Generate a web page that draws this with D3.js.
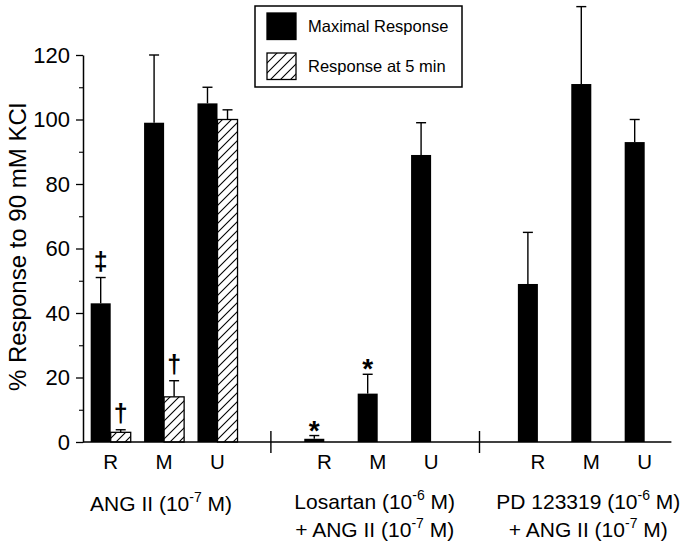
<!DOCTYPE html>
<html>
<head>
<meta charset="utf-8">
<script src="https://cdn.jsdelivr.net/npm/d3@7"></script>
<style>
  html, body { margin: 0; padding: 0; background: #fff; }
  svg { display: block; font-family: "Liberation Sans", Arial, Helvetica, sans-serif; }
</style>
</head>
<body>
<svg id="chart" width="685" height="550"></svg>
<script>
// ---------- data ----------
const groups = ["ANG II", "Losartan", "PD 123319"];
const sites = ["R", "M", "U"];
const seriesNames = ["Maximal Response", "Response at 5 min"];

// Maximal response (mean, SEM) for groups x sites, in row order
const maxMean = [43, 99, 105, 1, 15, 89, 49, 111, 93];
const maxSEM  = [8, 21, 5, 1, 6, 10, 16, 24, 7];

// Response at 5 min (only ANG II group)
const fiveMean = [3, 14, 100];
const fiveSEM  = [0.8, 5, 3];

const yTicks = [0, 20, 40, 60, 80, 100, 120];
const yMinorTicks = [10, 30, 50, 70, 90, 110];

const groupLabels = [
  ["ANG II (10^-7^ M)"],
  ["Losartan (10^-6^ M)", "+ ANG II (10^-7^ M)"],
  ["PD 123319 (10^-6^ M)", "+ ANG II (10^-7^ M)"]
];

const annotations = [
  { group: "ANG II", site: "R", series: "Maximal Response", symbol: "\u2021" },
  { group: "ANG II", site: "R", series: "Response at 5 min", symbol: "\u2020" },
  { group: "ANG II", site: "M", series: "Response at 5 min", symbol: "\u2020" },
  { group: "Losartan", site: "R", series: "Maximal Response", symbol: "*" },
  { group: "Losartan", site: "M", series: "Maximal Response", symbol: "*" }
];

// ---------- build rows ----------
const rows = [];
groups.forEach((g, gi) => sites.forEach((s, si) => {
  rows.push({ group: g, site: s, series: seriesNames[0], value: maxMean[gi * 3 + si], sem: maxSEM[gi * 3 + si] });
  if (gi === 0) rows.push({ group: g, site: s, series: seriesNames[1], value: fiveMean[si], sem: fiveSEM[si] });
}));

// ---------- layout ----------
const svg = d3.select("#chart");
const axisX = 83, baseY = 442, topY = 55;

const x0 = d3.scaleBand().domain(groups).range([axisX + 1, 671.4]).paddingInner(0.25).paddingOuter(0);
const x1 = d3.scaleBand().domain(sites).range([0, x0.bandwidth()]).paddingInner(0.25).paddingOuter(0.125);
const xs = d3.scaleBand().domain(seriesNames).range([0, x1.bandwidth()]);
const y = d3.scaleLinear().domain([0, 120]).range([baseY, topY]);

// hatch patterns
const defs = svg.append("defs");
function hatch(id, size) {
  const p = defs.append("pattern").attr("id", id).attr("patternUnits", "userSpaceOnUse")
    .attr("width", size).attr("height", size);
  p.append("rect").attr("width", size).attr("height", size).attr("fill", "#fff");
  p.append("path")
    .attr("d", `M0,${size} L${size},0 M${-size / 2},${size / 2} L${size / 2},${-size / 2} M${size / 2},${size * 1.5} L${size * 1.5},${size / 2}`)
    .attr("stroke", "#000").attr("stroke-width", 1.1);
}
hatch("hatchBar", 9);
hatch("hatchLegend", 10);

const fillFor = s => s === seriesNames[0] ? "#000" : "url(#hatchBar)";
const barX = d => x0(d.group) + x1(d.site) + xs(d.series);

// error bars
const eb = svg.append("g").attr("stroke", "#000").attr("stroke-width", 1.4).attr("fill", "none");
rows.forEach(d => {
  const cx = barX(d) + xs.bandwidth() / 2;
  const yTop = y(d.value + d.sem);
  eb.append("line").attr("x1", cx).attr("x2", cx).attr("y1", y(d.value)).attr("y2", yTop);
  eb.append("line").attr("x1", cx - 5).attr("x2", cx + 5).attr("y1", yTop).attr("y2", yTop);
});

// bars
svg.append("g").selectAll("rect").data(rows).join("rect")
  .attr("x", barX)
  .attr("y", d => y(d.value))
  .attr("width", xs.bandwidth())
  .attr("height", d => y(0) - y(d.value))
  .attr("fill", d => fillFor(d.series))
  .attr("stroke", "#000")
  .attr("stroke-width", d => d.series === seriesNames[0] ? 0 : 1.3);

// y axis
const yAxis = svg.append("g").attr("transform", `translate(${axisX},0)`)
  .call(d3.axisLeft(y).tickValues(yTicks).tickSize(7).tickPadding(6).tickSizeOuter(0));
yAxis.select(".domain").attr("stroke-width", 1.5);
yAxis.selectAll(".tick line").attr("stroke-width", 1.3);
yAxis.selectAll(".tick text").attr("font-size", 22).attr("font-family", "Liberation Sans, Arial, sans-serif").attr("fill", "#000");
const yMinor = svg.append("g").attr("transform", `translate(${axisX},0)`)
  .call(d3.axisLeft(y).tickValues(yMinorTicks).tickSize(4).tickFormat(""));
yMinor.select(".domain").remove();
yMinor.selectAll(".tick line").attr("stroke-width", 1.1);

// x baseline
svg.append("line").attr("x1", axisX).attr("x2", x0.range()[1]).attr("y1", baseY).attr("y2", baseY)
  .attr("stroke", "#000").attr("stroke-width", 1.5);

// group separators (between group bands)
const sepShift = [0, -5];
const seps = groups.slice(1).map((g, i) => (x0(groups[i]) + x0.bandwidth() + x0(g)) / 2 + sepShift[i]);
svg.append("g").selectAll("line").data(seps).join("line")
  .attr("x1", d => d).attr("x2", d => d).attr("y1", baseY - 11).attr("y2", baseY + 11)
  .attr("stroke", "#000").attr("stroke-width", 1.4);

// site labels
groups.forEach(g => sites.forEach(s => {
  svg.append("text").attr("x", x0(g) + x1(s) + x1.bandwidth() / 2).attr("y", 469)
    .attr("text-anchor", "middle").attr("font-size", 20.5).text(s);
}));

// group labels
groupLabels.forEach((lines, gi) => {
  lines.forEach((line, li) => {
    const t = svg.append("text")
      .attr("x", x0(groups[gi]) + x0.bandwidth() / 2 - 3)
      .attr("y", (gi === 0 ? 511 : 509) + li * 28)
      .attr("text-anchor", "middle").attr("font-size", 21);
    const parts = line.split("^");
    parts.forEach((p, pi) => {
      if (pi % 2 === 1) {
        t.append("tspan").attr("font-size", 14).attr("dy", -9).text(p);
      } else {
        const ts = t.append("tspan").text(p);
        if (pi > 0) ts.attr("dy", 9);
      }
    });
  });
});

// y title
svg.append("text").attr("transform", "translate(26,247) rotate(-90)")
  .attr("text-anchor", "middle").attr("font-size", 24).text("% Response to 90 mM KCl");

// annotations
annotations.forEach(a => {
  const d = rows.find(r => r.group === a.group && r.site === a.site && r.series === a.series);
  const cx = barX(d) + xs.bandwidth() / 2;
  const yTop = y(d.value + d.sem);
  const isStar = a.symbol === "*";
  svg.append("text").attr("x", cx).attr("y", isStar ? yTop + 4 : yTop - 8)
    .attr("text-anchor", "middle").attr("font-weight", "bold")
    .attr("font-size", isStar ? 28 : 25).text(a.symbol);
});

// legend
const lg = svg.append("g");
lg.append("rect").attr("x", 255).attr("y", 6).attr("width", 207).attr("height", 81)
  .attr("fill", "#fff").attr("stroke", "#000").attr("stroke-width", 1.5);
seriesNames.forEach((s, i) => {
  lg.append("rect").attr("x", 267).attr("y", 13 + i * 40).attr("width", 29).attr("height", 26.5)
    .attr("fill", i === 0 ? "#000" : "url(#hatchLegend)").attr("stroke", "#000").attr("stroke-width", 1.3);
  lg.append("text").attr("x", 308).attr("y", 31.5 + i * 40).attr("font-size", 16.5).text(s);
});
</script>
</body>
</html>
